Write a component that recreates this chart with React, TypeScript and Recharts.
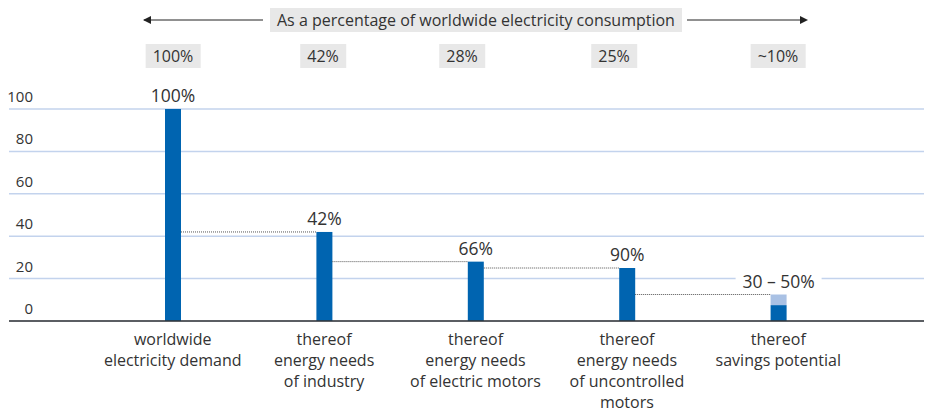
import React from 'react';
import { BarChart, Bar, XAxis, YAxis, CartesianGrid } from 'recharts';

const categories = [
  'worldwide\nelectricity demand',
  'thereof\nenergy needs\nof industry',
  'thereof\nenergy needs\nof electric motors',
  'thereof\nenergy needs\nof uncontrolled\nmotors',
  'thereof\nsavings potential',
];
const mainValues = [100, 42, 28, 25, 7.5];
const extraValues = [0, 0, 0, 0, 5];
const barLabels = ['100%', '42%', '66%', '90%', '30 – 50%'];
const shareLabels = ['100%', '42%', '28%', '25%', '~10%'];
const shareCenters = [165, 315, 454, 606, 770];
const yTicks = [0, 20, 40, 60, 80, 100];

const data = categories.map((name, i) => ({
  name,
  main: mainValues[i],
  extra: extraValues[i],
  label: barLabels[i],
}));

const W = 924;
const H = 404;
const PAD_L = 88;
const PAD_R = 78;
const STEP = (W - 1 - PAD_L - PAD_R) / categories.length;
const FONT = '"Open Sans", sans-serif';
const TEXT = '#333';

const YTick = ({ y, payload }: any) => (
  <text x={25} y={y - 7} textAnchor="end" fill={TEXT} fontSize={15} fontFamily={FONT}>
    {payload.value}
  </text>
);

const XTick = ({ x, y, payload }: any) => {
  const lines = String(payload.value).split('\n');
  return (
    <text x={x} y={y + 24} textAnchor="middle" fill={TEXT} fontSize={16} fontFamily={FONT}>
      {lines.map((l, i) => (
        <tspan key={i} x={x} dy={i === 0 ? 0 : 21}>
          {l}
        </tspan>
      ))}
    </text>
  );
};

const MainShape = (props: any) => {
  const { x, y, width, height, index, payload } = props;
  const total = payload.main + payload.extra;
  const topY = y + height - total * (height / payload.main);
  const cx = x + width / 2;
  const lw = payload.label.length * 10 + 6;
  return (
    <g>
      {index > 0 && (
        <line
          x1={x - STEP + width}
          x2={x}
          y1={topY}
          y2={topY}
          stroke="#555"
          strokeWidth={1}
          strokeDasharray="1 1"
        />
      )}
      <rect x={x} y={y} width={width} height={height} fill="#0064b0" />
      <rect x={cx - lw / 2} y={topY - 24} width={lw} height={20} fill="#fff" />
      <text x={cx} y={topY - 7} textAnchor="middle" fill={TEXT} fontSize={17.5} fontFamily={FONT}>
        {payload.label}
      </text>
    </g>
  );
};

const boxStyle: React.CSSProperties = {
  position: 'absolute',
  background: '#e8e8e8',
  color: TEXT,
  fontFamily: FONT,
  fontSize: 16,
  height: 24,
  lineHeight: '24px',
  padding: '0 7px',
  whiteSpace: 'nowrap',
};

export default function App() {
  return (
    <div style={{ position: 'relative', width: W, height: H }}>
      <svg width={W} height={40} style={{ position: 'absolute', left: 0, top: 0 }}>
        <line x1={136} x2={255} y1={12} y2={12} stroke="#222" strokeWidth={1} />
        <polygon points="135,12 143,8 143,16" fill="#222" />
        <line x1={679} x2={798} y1={12} y2={12} stroke="#222" strokeWidth={1} />
        <polygon points="800,12 792,8 792,16" fill="#222" />
      </svg>
      <div style={{ ...boxStyle, left: 262, top: 0 }}>
        As a percentage of worldwide electricity consumption
      </div>
      {shareLabels.map((s, i) => (
        <div
          key={i}
          style={{ ...boxStyle, left: shareCenters[i], top: 36, transform: 'translateX(-50%)' }}
        >
          {s}
        </div>
      ))}
      <BarChart
        width={W}
        height={H}
        data={data}
        margin={{ top: 101, right: 0, bottom: 0, left: 0 }}
        barSize={16}
      >
        <CartesianGrid vertical={false} stroke="#c3d3ed" strokeWidth={1.5} />
        <YAxis
          width={1}
          domain={[0, 100]}
          ticks={yTicks}
          axisLine={false}
          tickLine={false}
          tick={<YTick />}
        />
        <XAxis
          dataKey="name"
          height={91}
          padding={{ left: PAD_L, right: PAD_R }}
          tickLine={false}
          tickSize={0}
          tickMargin={0}
          interval={0}
          stroke="#333"
          strokeWidth={1.5}
          tick={<XTick />}
        />
        <Bar dataKey="main" stackId="a" shape={<MainShape />} isAnimationActive={false} />
        <Bar dataKey="extra" stackId="a" fill="#a9c1e4" isAnimationActive={false} />
      </BarChart>
    </div>
  );
}
